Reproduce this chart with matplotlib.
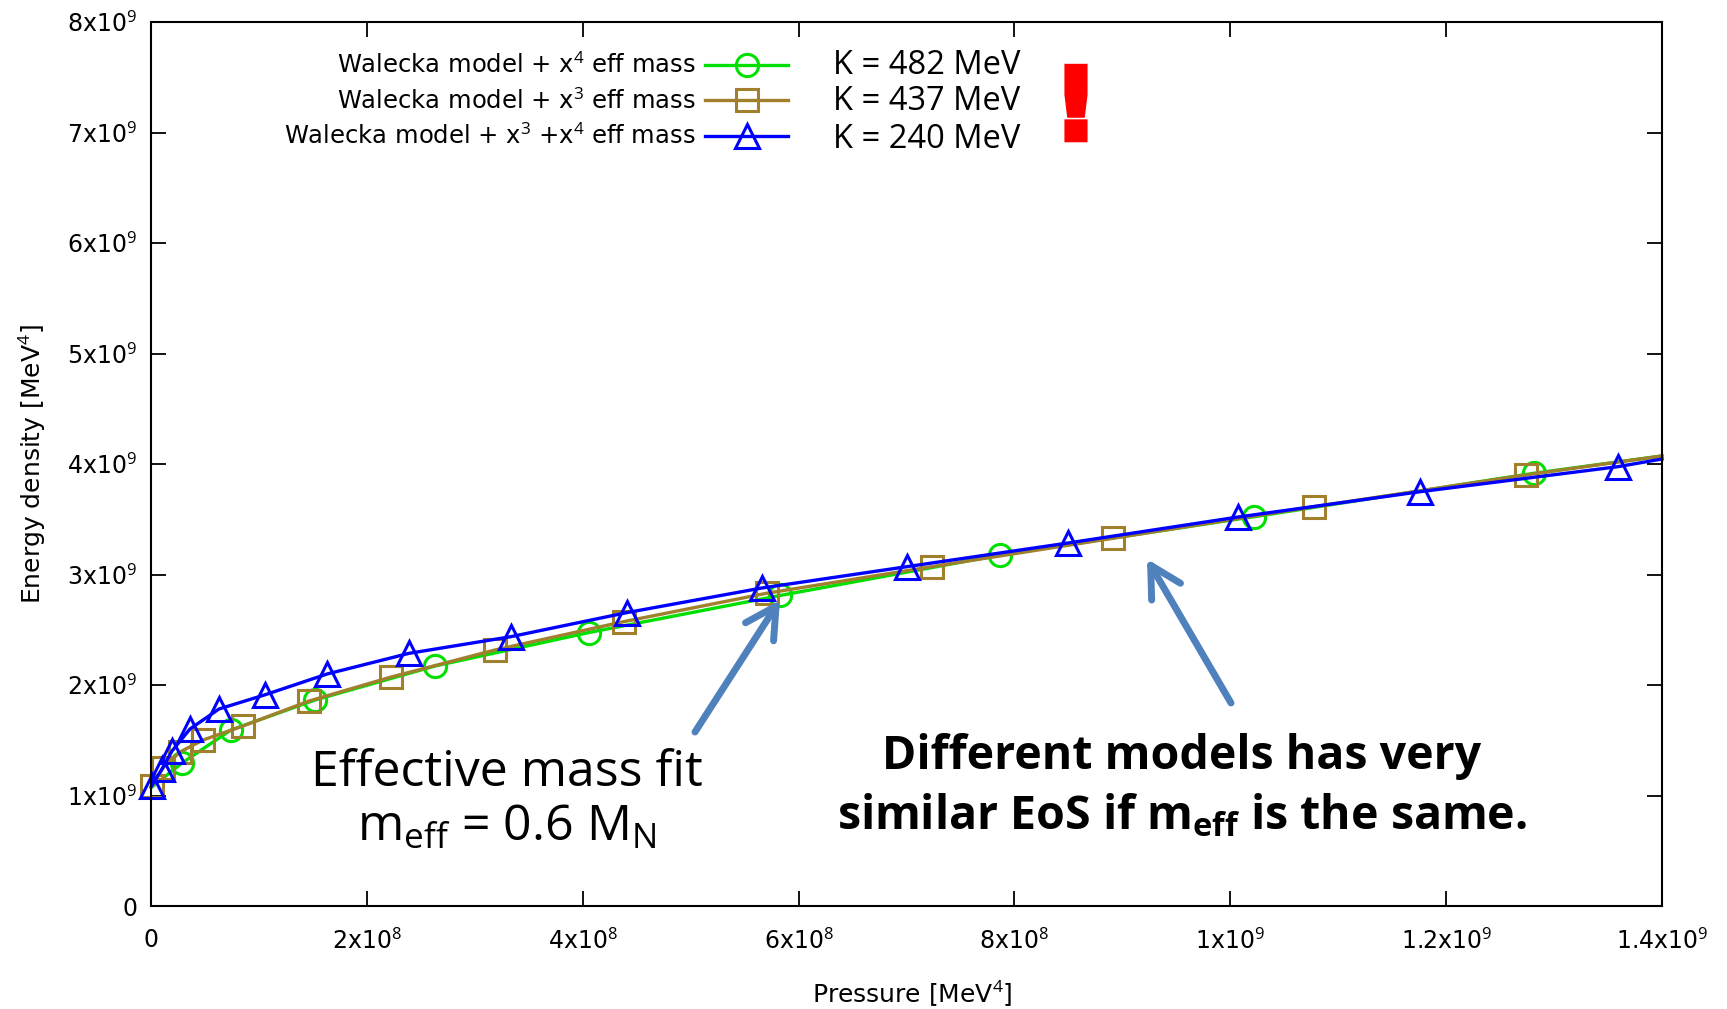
import numpy as np
import matplotlib
matplotlib.use('Agg')
import matplotlib.pyplot as plt
import matplotlib.patheffects as pe

W, H = 1727, 1009

plt.rcParams['font.family'] = 'DejaVu Sans'
plt.rcParams['mathtext.fontset'] = 'custom'
plt.rcParams['mathtext.rm'] = 'Open Sans'
plt.rcParams['mathtext.it'] = 'Open Sans:italic'
plt.rcParams['mathtext.bf'] = 'Open Sans:bold'

# ---- data ----
# Walecka + x^4 eff mass (green, circles). first point = curve start, last = value at right edge
p_x4 = [0.0, 2.83e7, 7.41e7, 1.519e8, 2.631e8, 4.058e8, 5.828e8, 7.87e8, 1.0219e9, 1.2812e9, 1.4e9]
e_x4 = [1.07e9, 1.291e9, 1.593e9, 1.864e9, 2.172e9, 2.475e9, 2.810e9, 3.177e9, 3.523e9, 3.916e9, 4.073e9]

# Walecka + x^3 eff mass (brown, squares)
p_x3 = [1e6, 1.11e7, 2.69e7, 4.82e7, 8.52e7, 1.464e8, 2.224e8, 3.187e8, 4.378e8, 5.703e8,
        7.233e8, 8.913e8, 1.0776e9, 1.2739e9, 1.4e9]
e_x3 = [1.086e9, 1.249e9, 1.394e9, 1.502e9, 1.629e9, 1.855e9, 2.072e9, 2.317e9, 2.573e9, 2.830e9,
        3.071e9, 3.328e9, 3.614e9, 3.901e9, 4.073e9]

# Walecka + x^3 + x^4 eff mass (blue, triangles)
p_x34 = [5e5, 1.02e7, 1.95e7, 3.61e7, 6.30e7, 1.052e8, 1.633e8, 2.393e8, 3.333e8, 4.413e8,
         5.661e8, 7.004e8, 8.496e8, 1.0071e9, 1.1757e9, 1.3592e9, 1.4e9]
e_x34 = [1.086e9, 1.240e9, 1.403e9, 1.602e9, 1.783e9, 1.910e9, 2.100e9, 2.287e9, 2.437e9, 2.656e9,
         2.878e9, 3.071e9, 3.285e9, 3.520e9, 3.749e9, 3.976e9, 4.045e9]

x_ticks = [0, 2e8, 4e8, 6e8, 8e8, 1e9, 1.2e9, 1.4e9]
x_ticklabels = ['0', '2x10$^{8}$', '4x10$^{8}$', '6x10$^{8}$', '8x10$^{8}$',
                '1x10$^{9}$', '1.2x10$^{9}$', '1.4x10$^{9}$']
y_ticks = [0, 1e9, 2e9, 3e9, 4e9, 5e9, 6e9, 7e9, 8e9]
y_ticklabels = ['0'] + ['%dx10$^{9}$' % i for i in range(1, 9)]

labels = ['Walecka model + x$^{4}$ eff mass',
          'Walecka model + x$^{3}$ eff mass',
          'Walecka model + x$^{3}$ +x$^{4}$ eff mass']
k_values = ['K = 482 MeV', 'K = 437 MeV', 'K = 240 MeV']

GREEN = '#00e000'
BROWN = '#a0802c'
BLUE = '#0000ff'
ARROW = '#4f81bd'


def fpos(x, y):
    """reference pixel -> figure fraction"""
    return x / W, 1 - y / H


fig = plt.figure(figsize=(W / 100, H / 100), dpi=100)
ax = fig.add_axes([151 / W, 1 - 906 / H, (1662 - 151) / W, (906 - 22) / H])

lw, mew = 2.4, 2.2
ax.plot(p_x4, e_x4, color=GREEN, lw=lw, marker='o', ms=16, mfc='none', mew=mew,
        markevery=list(range(1, len(p_x4) - 1)), clip_on=False, label=labels[0])
ax.plot(p_x3, e_x3, color=BROWN, lw=lw, marker='s', ms=15.5, mfc='none', mew=mew,
        markevery=list(range(0, len(p_x3) - 1)), clip_on=False, label=labels[1])
ax.plot(p_x34, e_x34, color=BLUE, lw=lw, marker='^', ms=17, mfc='none', mew=mew,
        markevery=list(range(0, len(p_x34) - 1)), clip_on=False, label=labels[2])

ax.set_xlim(0, 1.4e9)
ax.set_ylim(0, 8e9)
ax.set_xticks(x_ticks)
ax.set_xticklabels(x_ticklabels)
ax.set_yticks(y_ticks)
ax.set_yticklabels(y_ticklabels)
ax.tick_params(direction='in', top=True, right=True, length=11, width=1.3,
               labelsize=17, colors='black')
ax.tick_params(axis='x', pad=16)
ax.tick_params(axis='y', pad=10)
for s in ax.spines.values():
    s.set_linewidth(1.5)

ax.set_xlabel('Pressure [MeV$^{4}$]', fontsize=18)
ax.set_ylabel('Energy density [MeV$^{4}$]', fontsize=18)
ax.xaxis.set_label_coords(0.5036, -0.082)
ax.yaxis.set_label_coords(-0.068, 0.5)

leg = ax.legend(loc='upper right', bbox_to_anchor=fpos(788, 53), bbox_transform=fig.transFigure,
                frameon=False, fontsize=17.5, markerfirst=False, numpoints=1,
                handlelength=3.4, handletextpad=0.4, labelspacing=0.42,
                borderpad=0, borderaxespad=0)

# K values next to the legend
for i, k in enumerate(k_values):
    fig.text(*fpos(833, [66, 102, 140][i]), k, fontsize=23.5, family='Open Sans',
             ha='left', va='center')

# red exclamation mark
fig.text(*fpos(1076, 112), '!', fontsize=72, fontweight='bold', color='red',
         ha='center', va='center',
         path_effects=[pe.withStroke(linewidth=4, foreground='red', joinstyle='miter')])

# annotations
fig.text(*fpos(507, 773), 'Effective mass fit', fontsize=36, family='Open Sans',
         ha='center', va='center')
fig.text(*fpos(507, 828), r'm$_{\rm eff}$ = 0.6 M$_{\rm N}$', fontsize=36, family='Open Sans',
         ha='center', va='center')
fig.text(*fpos(1182, 757), 'Different models has very', fontsize=33.5, family='Open Sans',
         fontweight='bold', ha='center', va='center')
fig.text(*fpos(1182, 816), r'similar EoS if m$_{\mathbf{eff}}$ is the same.', fontsize=33.5,
         family='Open Sans', fontweight='bold', ha='center', va='center')

arrows = [((695, 732), (780, 600)), ((1231, 703), (1147, 559))]
for tail, head in arrows:
    ax.annotate('', xy=fpos(*head), xycoords='figure fraction',
                xytext=fpos(*tail), textcoords='figure fraction',
                arrowprops=dict(arrowstyle='->,head_length=0.55,head_width=0.3', lw=5,
                                color=ARROW, shrinkA=0, shrinkB=0, mutation_scale=40))

fig.savefig('out.png', dpi=100)
